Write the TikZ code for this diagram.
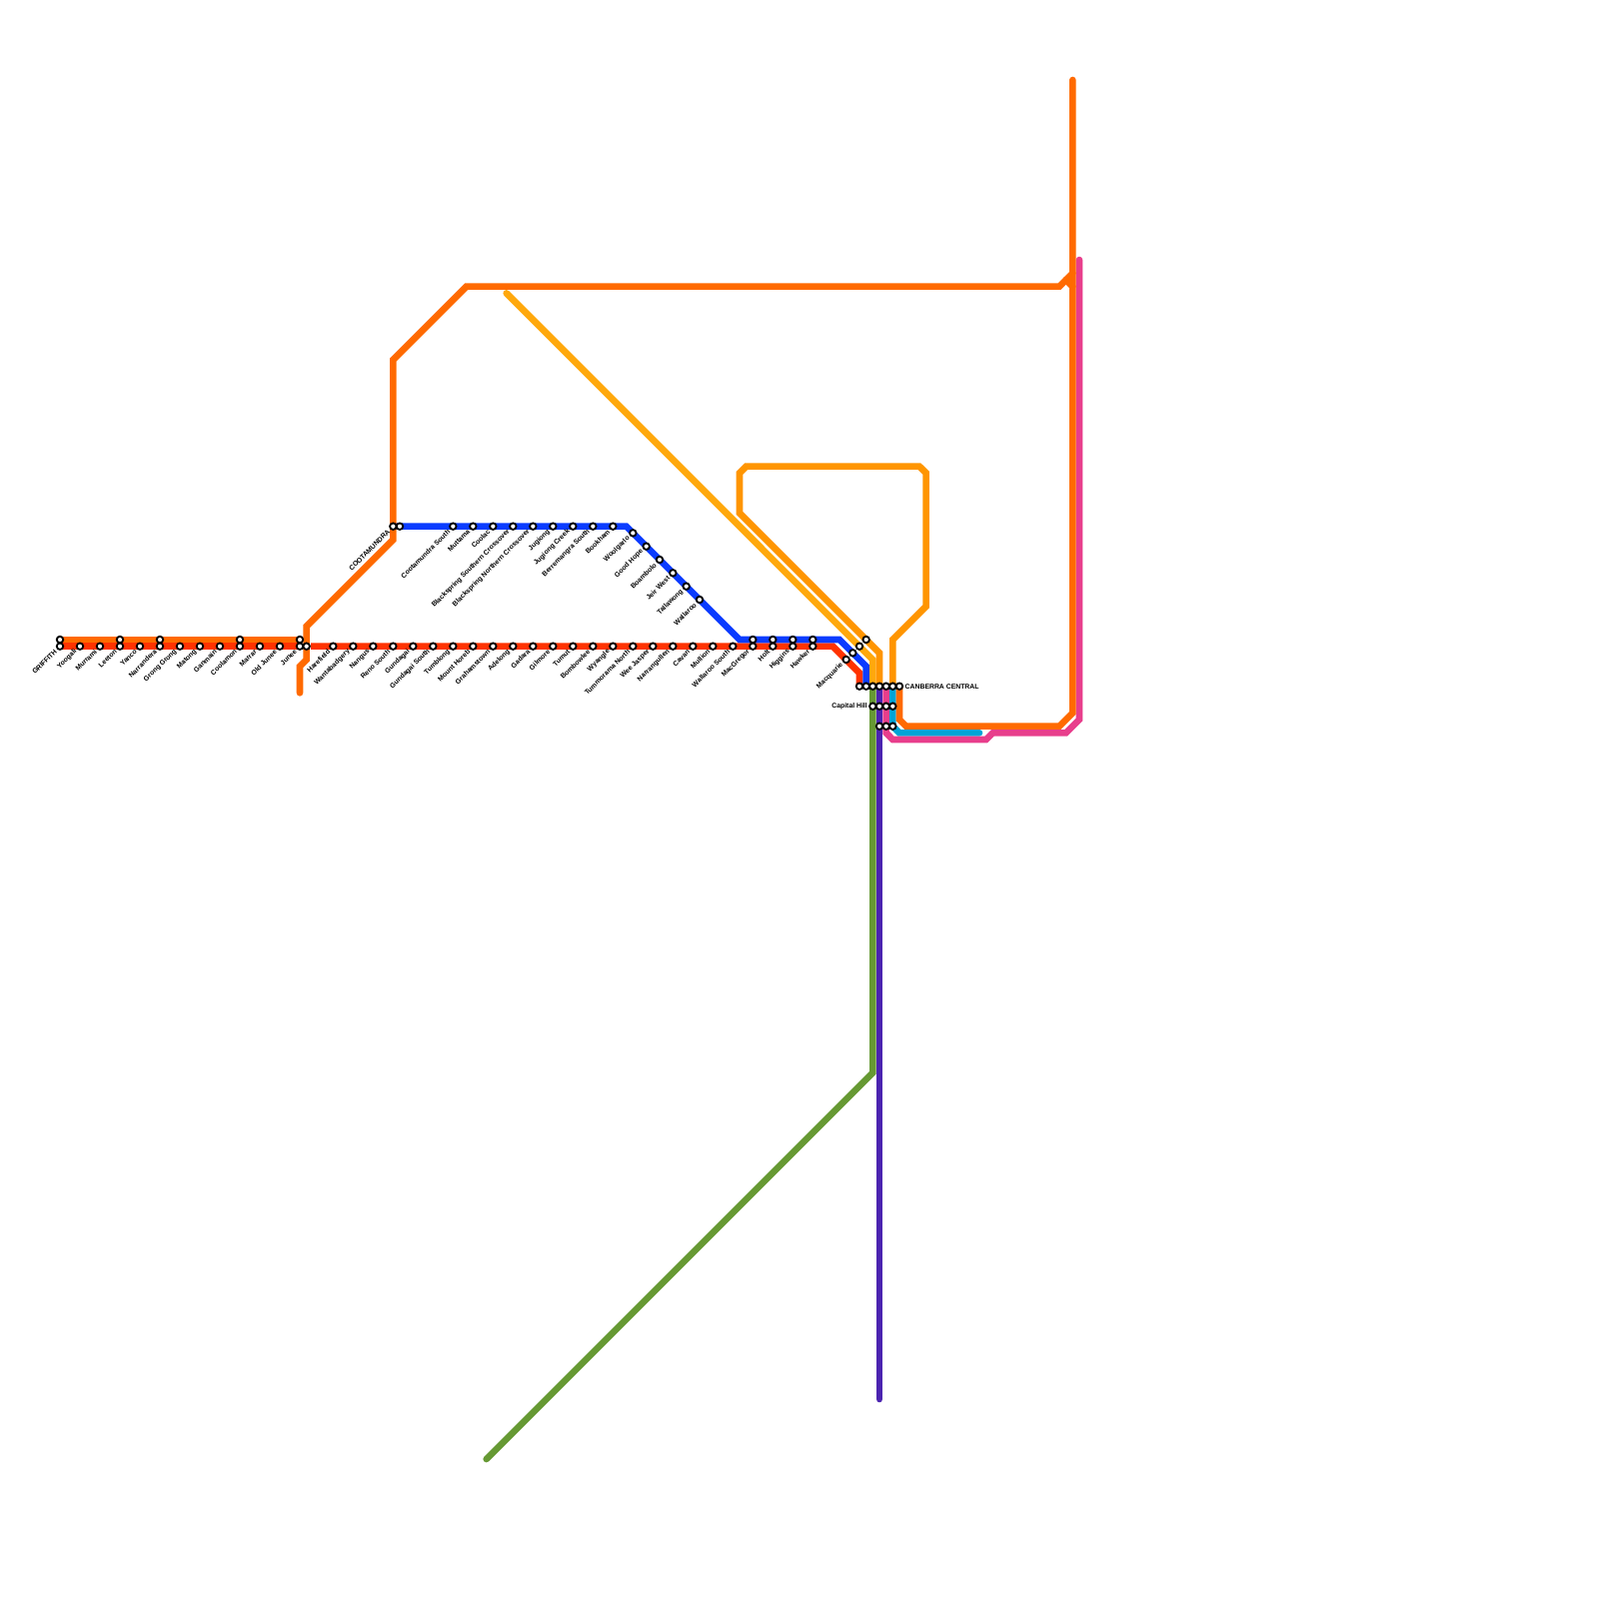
\documentclass[tikz,border=0pt]{standalone}
\usepackage{fontspec}
\setmainfont{Liberation Sans}
\definecolor{cRed}{HTML}{FF3300}
\definecolor{cOrange}{HTML}{FF6A00}
\definecolor{cBlue}{HTML}{0A3CFF}
\definecolor{cAmber}{HTML}{FFA80C}
\definecolor{cDark}{HTML}{FF9500}
\definecolor{cGreen}{HTML}{669933}
\definecolor{cPurple}{HTML}{4B24B0}
\definecolor{cPink}{HTML}{E83E8C}
\definecolor{cCyan}{HTML}{00A4D6}
\tikzset{
  railline/.style={line width=1.88pt,line cap=round,line join=miter},
  halt/.style={circle,draw=black,fill=white,line width=0.52pt,minimum size=1.85pt,inner sep=0pt},
  lbl/.style={font=\fontsize{1.95pt}{2.2pt}\selectfont\bfseries,inner sep=0pt,text=black},
  slant/.style={lbl,anchor=east,rotate=45}
}
\begin{document}
\begin{tikzpicture}[x=0.1mm,y=-0.1mm]
\fill[white] (0,0) rectangle (1600,1600);
\useasboundingbox (0,0) rectangle (1600,1600);
% path vertices
\coordinate (rA) at (60,646.67); \coordinate (rB) at (300,646.67);
\coordinate (rC) at (306.67,646.67); \coordinate (rD) at (833.33,646.67);
\coordinate (rE) at (860,673.33); \coordinate (rF) at (860,686.67);
\coordinate (oA) at (60,640); \coordinate (oB) at (300,640);
\coordinate (oC) at (300,693.33); \coordinate (oD) at (300,666.67);
\coordinate (oE) at (306.67,660); \coordinate (oF) at (306.67,626.67);
\coordinate (oG) at (393.33,540); \coordinate (oH) at (393.33,360);
\coordinate (oI) at (466.67,286.67); \coordinate (oJ) at (1060,286.67);
\coordinate (oK) at (1073.33,273.33); \coordinate (oL) at (1066.67,280);
\coordinate (oM) at (1073.33,286.67); \coordinate (oN) at (1073.33,80);
\coordinate (oP) at (1073.33,713.33); \coordinate (oQ) at (1060,726.67);
\coordinate (oR) at (906.67,726.67); \coordinate (oS) at (900,720);
\coordinate (oT) at (900,686.67);
\coordinate (bA) at (393.33,526.67); \coordinate (bB) at (626.67,526.67);
\coordinate (bC) at (740,640); \coordinate (bD) at (840,640);
\coordinate (bE) at (866.67,666.67); \coordinate (bF) at (866.67,686.67);
\coordinate (aA) at (506.67,293.33); \coordinate (aB) at (873.33,660);
\coordinate (aC) at (873.33,686.67);
\coordinate (dA) at (880,686.67); \coordinate (dB) at (880,653.33);
\coordinate (dC) at (740,513.33); \coordinate (dD) at (740,473.33);
\coordinate (dE) at (746.67,466.67); \coordinate (dF) at (920,466.67);
\coordinate (dG) at (926.67,473.33); \coordinate (dH) at (926.67,606.67);
\coordinate (dI) at (893.33,640); \coordinate (dJ) at (893.33,686.67);
\coordinate (gA) at (873.33,686.67); \coordinate (gB) at (873.33,1073.33);
\coordinate (gC) at (486.67,1460);
\coordinate (pA) at (880,686.67); \coordinate (pB) at (880,1400);
\coordinate (kA) at (886.67,686.67); \coordinate (kB) at (886.67,733.33);
\coordinate (kC) at (893.33,740); \coordinate (kD) at (986.67,740);
\coordinate (kE) at (993.33,733.33); \coordinate (kF) at (1066.67,733.33);
\coordinate (kG) at (1080,720); \coordinate (kH) at (1080,260);
\coordinate (cA) at (893.33,686.67); \coordinate (cB) at (893.33,726.67);
\coordinate (cC) at (900,733.33); \coordinate (cD) at (980,733.33);
% lines
\draw[railline,cRed] (rA)--(rB);
\draw[railline,cRed] (rC)--(rD)--(rE)--(rF);
\draw[railline,cBlue] (bA)--(bB)--(bC)--(bD)--(bE)--(bF);
\draw[railline,cAmber] (aA)--(aB)--(aC);
\draw[railline,cDark] (dA)--(dB)--(dC)--(dD)--(dE)--(dF)--(dG)--(dH)--(dI)--(dJ);
\draw[railline,cGreen] (gA)--(gB)--(gC);
\draw[railline,cPurple] (pA)--(pB);
\draw[railline,cCyan] (cA)--(cB)--(cC)--(cD);
\draw[railline,cPink] (kA)--(kB)--(kC)--(kD)--(kE)--(kF)--(kG)--(kH);
\draw[railline,cOrange] (oA)--(oB);
\draw[white,line width=2.3pt] (oE)--(oF);
\draw[railline,cOrange] (oC)--(oD)--(oE)--(oF)--(oG)--(oH)--(oI)--(oJ)--(oK);
\draw[railline,cOrange] (oL)--(oM);
\draw[railline,cOrange] (oN)--(oP)--(oQ)--(oR)--(oS)--(oT);
% stations with labels on the lower-left
\foreach \i/\x/\y/\t in {
 1/60/646.67/GRIFFITH,2/80/646.67/Yoogali,3/100/646.67/Murrami,4/120/646.67/Leeton,5/140/646.67/Yanco,
 6/160/646.67/Narrandera,7/180/646.67/Grong Grong,8/200/646.67/Matong,9/220/646.67/Ganmain,10/240/646.67/Coolamon,
 11/260/646.67/Marrar,12/280/646.67/Old Junee,13/300/646.67/Junee,14/333.33/646.67/Harefield,15/353.33/646.67/Wantabadgery,
 16/373.33/646.67/Nangus,17/393.33/646.67/Reno South,18/413.33/646.67/Gundagai,19/433.33/646.67/Gundagai South,20/453.33/646.67/Tumblong,
 21/473.33/646.67/Mount Horeb,22/493.33/646.67/Grahamstown,23/513.33/646.67/Adelong,24/533.33/646.67/Gadara,25/553.33/646.67/Gilmore,
 26/573.33/646.67/Tumut,27/593.33/646.67/Bombowlee,28/613.33/646.67/Wyangle,29/633.33/646.67/Tummorama North,30/653.33/646.67/Wee Jasper,
 31/673.33/646.67/Narrangullen,32/693.33/646.67/Cavan,33/713.33/646.67/Mullion,34/733.33/646.67/Wallaroo South,35/753.33/646.67/MacGregor,
 36/773.33/646.67/Holt,37/793.33/646.67/Higgins,38/813.33/646.67/Hawker,
 39/393.33/526.67/COOTAMUNDRA,40/453.33/526.67/Cootamundra South,41/473.33/526.67/Muttama,42/493.33/526.67/Coolac,
 43/513.33/526.67/Blackspring Southern Crossover,44/533.33/526.67/Blackspring Northern Crossover,45/553.33/526.67/Jugiong,
 46/573.33/526.67/Jugiong Creek,47/593.33/526.67/Berremangra South,48/613.33/526.67/Bookham,
 49/633.33/533.33/Woolgarlo,50/646.67/546.67/Good Hope,51/660/560/Boambolo,52/673.33/573.33/Jeir West,53/686.67/586.67/Tallawong,54/700/600/Wallaroo,
 55/846.67/660/Macquarie}{
  \node[halt] (s\i) at (\x,\y) {};
  \node[slant] (t\i) at (\x-3.8,\y+3.8) {\t};
}
% stations without their own label
\foreach \i/\x/\y in {
 60/60/640,61/120/640,62/160/640,63/240/640,64/300/640,65/306.67/646.67,
 66/753.33/640,67/773.33/640,68/793.33/640,69/813.33/640,
 70/400/526.67,71/853.33/653.33,72/860/646.67,73/866.67/640,
 74/860/686.67,75/866.67/686.67,76/873.33/686.67,77/880/686.67,78/886.67/686.67,79/893.33/686.67,80/900/686.67,
 81/873.33/706.67,82/880/706.67,83/886.67/706.67,84/893.33/706.67,
 85/880/726.67,86/886.67/726.67,87/893.33/726.67}{
  \node[halt] (s\i) at (\x,\y) {};
}
\node[lbl,anchor=west] (tc) at (905,686.67) {CANBERRA CENTRAL};
\node[lbl,anchor=east] (th) at (868.5,706.4) {Capital Hill};
\end{tikzpicture}
\end{document}
